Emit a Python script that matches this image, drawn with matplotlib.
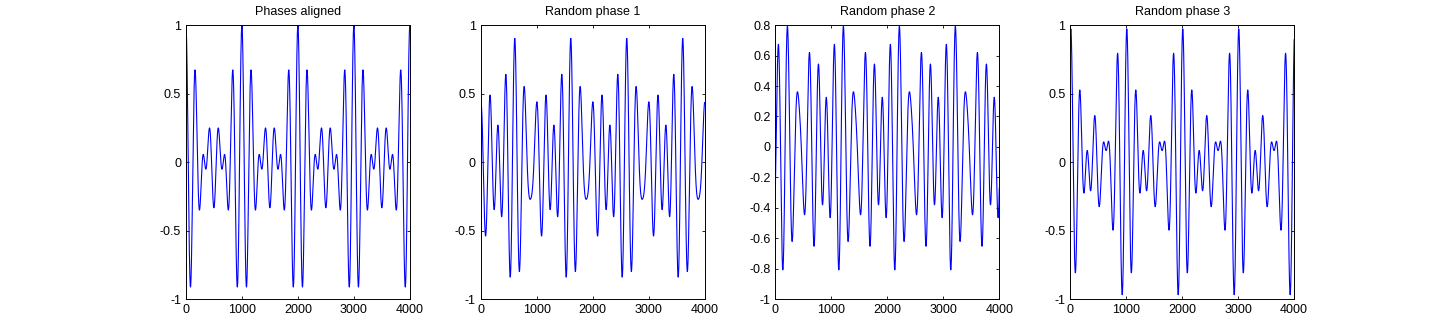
import numpy as np
import matplotlib
matplotlib.use('Agg')
from matplotlib import pyplot as plt

# signal = mean of three cosines, 5/6/7 cycles per 1000 samples
freqs = [5, 6, 7]
n_samples = 4000
period = 1000

titles = ['Phases aligned', 'Random phase 1', 'Random phase 2', 'Random phase 3']
# phases in degrees for each panel
phases_aligned = [0.0, 0.0, 0.0]
phases_rand1 = [355.8, 85.8, 283.5]
phases_rand2 = [336.5, 202.0, 216.2]
phases_rand3 = [320.3, 345.3, 340.8]
all_phases = [phases_aligned, phases_rand1, phases_rand2, phases_rand3]

ylims = [(-1, 1), (-1, 1), (-1, 0.8), (-1, 1)]
yticks_a = [-1, -0.5, 0, 0.5, 1]
ylabels_a = ['-1', '-0.5', '0', '0.5', '1']
yticks_b = [-1, -0.8, -0.6, -0.4, -0.2, 0, 0.2, 0.4, 0.6, 0.8]
ylabels_b = ['-1', '-0.8', '-0.6', '-0.4', '-0.2', '0', '0.2', '0.4', '0.6', '0.8']
xticks = [0, 1000, 2000, 3000, 4000]

plt.rcParams['font.family'] = ['Liberation Sans', 'DejaVu Sans']
plt.rcParams['font.size'] = 9

fig = plt.figure(figsize=(14.3, 3.36), dpi=100)
lefts = [0.13, 0.3361, 0.5422, 0.7484]

t = np.arange(1, n_samples + 1)
for i in range(4):
    ax = fig.add_axes([lefts[i], 0.11, 0.1566, 0.815])
    ph = np.deg2rad(all_phases[i])
    y = np.zeros(len(t))
    for f, p in zip(freqs, ph):
        y += np.cos(2 * np.pi * f * t / period + p)
    y /= len(freqs)
    ax.plot(t, y, color=(0, 0, 1), lw=0.8)
    ax.set_xlim(0, n_samples)
    ax.set_ylim(*ylims[i])
    ax.set_xticks(xticks)
    ax.set_xticklabels([str(v) for v in xticks])
    if i == 2:
        ax.set_yticks(yticks_b)
        ax.set_yticklabels(ylabels_b)
    else:
        ax.set_yticks(yticks_a)
        ax.set_yticklabels(ylabels_a)
    ax.tick_params(direction='in', length=2.5, width=0.6, top=True, right=True,
                   labelsize=9, pad=3.5, colors='black')
    for sp in ax.spines.values():
        sp.set_linewidth(0.7)
        sp.set_color('black')
    ax.set_title(titles[i], fontsize=9, pad=7)

fig.savefig('out.png', dpi=100)
